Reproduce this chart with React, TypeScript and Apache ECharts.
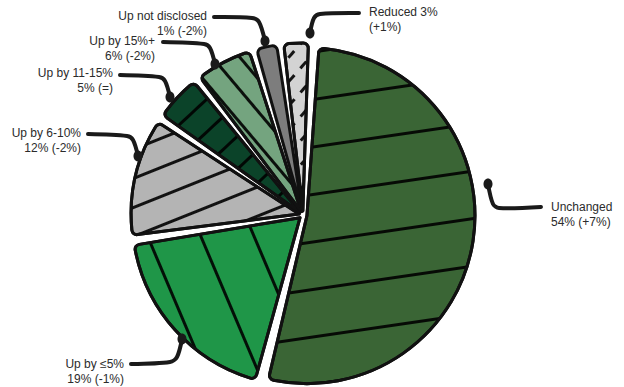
import React, { useEffect, useRef } from "react";
import * as echarts from "echarts";

const CATEGORIES = ["Unchanged", "Up by ≤5%", "Up by 6-10%", "Up by 11-15%", "Up by 15%+", "Up not disclosed", "Reduced"];
const VALUES = [54, 19, 12, 5, 6, 1, 3];
const CHANGES = ["+7%", "-1%", "-2%", "=", "-2%", "-2%", "+1%"];

// styling (not data)
const COLORS = ["#3a6535", "#1f9648", "#b4b4b4", "#0b4329", "#74a47f", "#7d7d7d", "#d3d3d3"];
const HATCH: any[] = [
  { rot: -0.145, gap: 44 },
  { rot: 1.17, gap: 46 },
  { rot: -0.38, gap: 24 },
  { rot: -0.75, gap: 21 },
  { rot: 0.87, gap: 18 },
  null,
  { rot: -0.85, gap: 13, dash: [9, 9] },
];
const OFFSETS = [10, 4, 4, 4, 4, 4, 4];
const LABEL_ANCHOR: [number, number, "left" | "right"][] = [
  [551, 199, "left"],
  [124, 356, "right"],
  [81, 125, "right"],
  [113, 65, "right"],
  [155, 33, "right"],
  [207, 8, "right"],
  [369, 4, "left"],
];
const LEADERS: number[][][] = [
  [[488, 184], [493, 204], [499, 208], [541, 207]],
  [[182, 339], [177, 357], [170, 362], [131, 364]],
  [[138, 156], [133, 140], [127, 136], [88, 134]],
  [[170, 97], [165, 81], [159, 77], [120, 75]],
  [[215, 64], [210, 48], [204, 44], [163, 42]],
  [[265, 41], [259, 22], [252, 18], [214, 17]],
  [[310, 33], [314, 18], [320, 14], [359, 13]],
];

function labelText(i: number): string {
  if (i === CATEGORIES.length - 1) return `${CATEGORIES[i]} ${VALUES[i]}%\n(${CHANGES[i]})`;
  return `${CATEGORIES[i]}\n${VALUES[i]}% (${CHANGES[i]})`;
}

export default function App() {
  const ref = useRef<HTMLDivElement>(null);
  useEffect(() => {
    if (!ref.current) return;
    const chart = echarts.init(ref.current, null, { renderer: "svg" });
    const data = CATEGORIES.map((name, i) => {
      const item: any = {
        name,
        value: VALUES[i],
        selected: true,
        selectedOffset: OFFSETS[i],
        itemStyle: { color: COLORS[i] },
      };
      const h = HATCH[i];
      if (h) {
        item.itemStyle.decal = {
          symbol: "rect",
          symbolSize: 1,
          dashArrayX: h.dash ? [h.dash] : [1, 0],
          dashArrayY: [3, h.gap],
          rotation: h.rot,
          color: "rgba(0,0,0,0.9)",
        };
      }
      return item;
    });
    const graphics: any[] = [];
    LEADERS.forEach((pts, i) => {
      graphics.push({
        type: "polyline",
        shape: { points: pts, smooth: 0.3 },
        style: { stroke: "#1a1a1a", lineWidth: 4, lineCap: "round", lineJoin: "round", fill: null },
        z: 100,
      });
      graphics.push({
        type: "ellipse",
        shape: { cx: pts[0][0], cy: pts[0][1], rx: 4.5, ry: 5.5 },
        style: { fill: "#1a1a1a" },
        z: 101,
      });
      const a = LABEL_ANCHOR[i];
      graphics.push({
        type: "text",
        x: a[0],
        y: a[1],
        style: {
          text: labelText(i),
          align: a[2],
          verticalAlign: "top",
          fontSize: 12,
          lineHeight: 15,
          fontFamily: "Liberation Sans, Arial, sans-serif",
          fill: "#2b2b2b",
        },
        z: 102,
      });
    });
    chart.setOption({
      animation: false,
      graphic: graphics,
      series: [
        {
          type: "pie",
          center: [303, 215],
          radius: [0, 168],
          startAngle: 87,
          clockwise: true,
          padAngle: 2.2,
          minAngle: 7,
          selectedMode: "multiple",
          selectedOffset: 4,
          avoidLabelOverlap: false,
          itemStyle: { borderColor: "#111", borderWidth: 3, borderRadius: 5 },
          select: { itemStyle: { borderColor: "#111", borderWidth: 3 } },
          emphasis: { disabled: true },
          label: { show: false },
          labelLine: { show: false },
          data,
        },
      ],
    });
    return () => chart.dispose();
  }, []);
  return (
    <div
      ref={ref}
      style={{ position: "fixed", left: 0, top: 0, width: 624, height: 387, background: "#fff" }}
    />
  );
}
